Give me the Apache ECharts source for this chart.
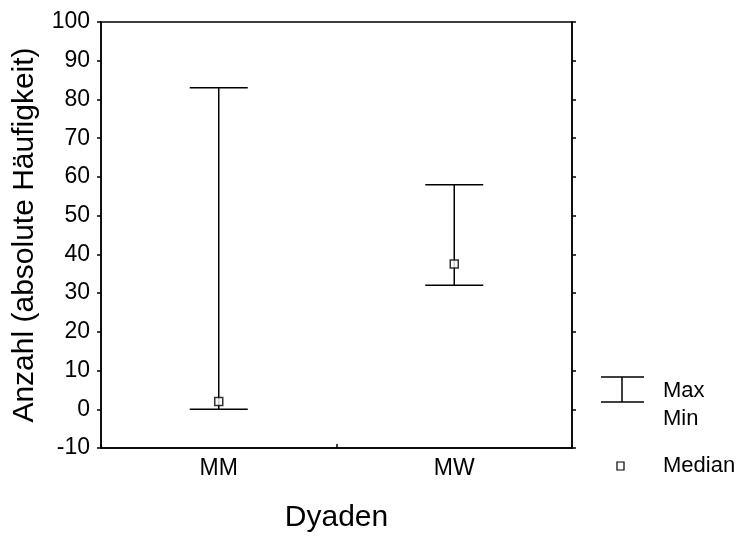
<!DOCTYPE html>
<html><head><meta charset="utf-8">
<script src="https://cdn.jsdelivr.net/npm/echarts@6/dist/echarts.min.js"></script>
<style>html,body{margin:0;padding:0;background:#fff}#c{width:742px;height:538px}</style>
</head><body><div id="c"></div>
<script>
const categories = ['MM', 'MW'];
const maxValues = [83, 58];
const minValues = [0, 32];
const medianValues = [2, 37.5];
const yTicks = [-10, 0, 10, 20, 30, 40, 50, 60, 70, 80, 90, 100];

const chart = echarts.init(document.getElementById('c'), null, {renderer: 'canvas'});
const F = 'Liberation Sans, Arial, sans-serif';
const rangeData = categories.map((c, i) => [i, minValues[i], maxValues[i]]);

chart.setOption({
  animation: false,
  grid: {left: 101, right: 170, top: 22, bottom: 90, show: true, borderColor: '#000', borderWidth: 1.5, containLabel: false},
  xAxis: {
    type: 'category', data: categories, boundaryGap: true,
    axisLine: {onZero: false, lineStyle: {color: '#000', width: 1.5}},
    axisTick: {show: true, inside: true, length: 4, lineStyle: {color: '#000', width: 1.5}},
    axisLabel: {fontFamily: F, fontSize: 23, color: '#000', margin: 9},
    name: 'Dyaden', nameLocation: 'middle', nameGap: 55,
    nameTextStyle: {fontFamily: F, fontSize: 30, color: '#000', padding: 0}
  },
  yAxis: [{
    type: 'value', min: yTicks[0], max: yTicks[yTicks.length - 1], interval: 10,
    axisLine: {show: true, onZero: false, lineStyle: {color: '#000', width: 1.5}},
    axisTick: {show: true, length: 4, lineStyle: {color: '#000', width: 1.5}},
    axisLabel: {fontFamily: F, fontSize: 23, color: '#000', margin: 11},
    splitLine: {show: false},
    name: 'Anzahl (absolute Häufigkeit)', nameLocation: 'middle', nameGap: 61,
    nameTextStyle: {fontFamily: F, fontSize: 30, color: '#000'}
  }, {
    type: 'value', position: 'right', min: yTicks[0], max: yTicks[yTicks.length - 1], interval: 10,
    axisLine: {show: true, onZero: false, lineStyle: {color: '#000', width: 1.5}},
    axisTick: {show: true, length: 4, lineStyle: {color: '#000', width: 1.5}},
    axisLabel: {show: false}, splitLine: {show: false}
  }],
  series: [{
    type: 'custom',
    data: rangeData,
    encode: {x: 0, y: [1, 2]},
    renderItem: function (params, api) {
      const x = api.value(0);
      const lo = api.coord([x, api.value(1)]);
      const hi = api.coord([x, api.value(2)]);
      const hw = 29;
      const st = {stroke: '#000', lineWidth: 1.5};
      return {type: 'group', children: [
        {type: 'line', shape: {x1: lo[0], y1: lo[1], x2: hi[0], y2: hi[1]}, style: st},
        {type: 'line', shape: {x1: lo[0] - hw, y1: lo[1], x2: lo[0] + hw, y2: lo[1]}, style: st},
        {type: 'line', shape: {x1: hi[0] - hw, y1: hi[1], x2: hi[0] + hw, y2: hi[1]}, style: st}
      ]};
    },
    z: 2
  }, {
    type: 'scatter',
    data: medianValues.map((v, i) => [i, v]),
    symbol: 'rect', symbolSize: 8,
    itemStyle: {color: '#fff', borderColor: '#000', borderWidth: 1.5},
    z: 3
  }],
  graphic: [
    {type: 'line', shape: {x1: 601, y1: 377, x2: 644, y2: 377}, style: {stroke: '#000', lineWidth: 1.5}},
    {type: 'line', shape: {x1: 601, y1: 402, x2: 644, y2: 402}, style: {stroke: '#000', lineWidth: 1.5}},
    {type: 'line', shape: {x1: 622, y1: 377, x2: 622, y2: 402}, style: {stroke: '#000', lineWidth: 1.5}},
    {type: 'text', left: 663, top: 380, style: {text: 'Max', font: '22px ' + F, fill: '#000'}},
    {type: 'text', left: 663, top: 408, style: {text: 'Min', font: '22px ' + F, fill: '#000'}},
    {type: 'rect', shape: {x: 617, y: 462, width: 7, height: 8}, style: {fill: '#fff', stroke: '#000', lineWidth: 1.2}},
    {type: 'text', left: 663, top: 455, style: {text: 'Median', font: '22px ' + F, fill: '#000'}}
  ]
});
</script></body></html>
